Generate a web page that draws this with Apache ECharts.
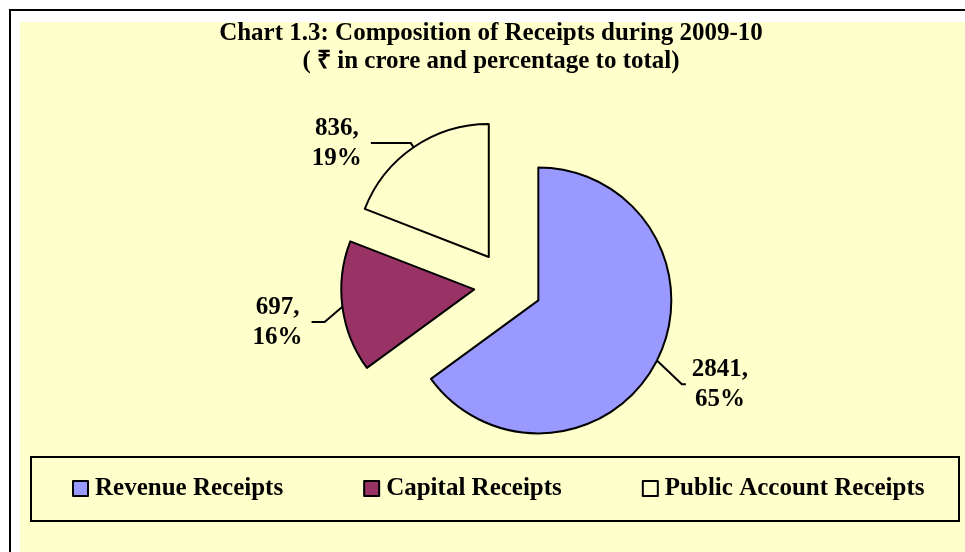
<!DOCTYPE html>
<html lang="en">
<head>
  <meta charset="UTF-8">
  <title>Composition of Receipts during 2009-10</title>
  <script src="https://cdn.jsdelivr.net/npm/echarts@6/dist/echarts.min.js"></script>
  <style>
    html, body { margin: 0; padding: 0; background: #fff; }
    #receiptsPie { width: 965px; height: 552px; }
  </style>
</head>
<body>
  <div id="receiptsPie"></div>
</body>
</html>
<script>
  // 数据（₹ in crore）
  var categories = ['Revenue Receipts', 'Capital Receipts', 'Public Account Receipts']
  var receipts = [2841, 697, 836]
  var sliceColors = ['#9999FF', '#993366', '#FFFFCC']

  // 引导线长度 [length, length2]，标签下移量
  var leaderLines = [[28, 4], [18, 13], [5, 40]]
  var labelShift = [11, 13, 0]

  var serifBold = {
    fontFamily: 'Liberation Serif',
    fontWeight: 'bold',
    fontSize: 25,
    color: '#000'
  }

  var pieData = categories.map(function (name, i) {
    return {
      name: name,
      value: receipts[i],
      selected: true, // 分离扇区
      itemStyle: { color: sliceColors[i] },
      labelLine: { length: leaderLines[i][0], length2: leaderLines[i][1] }
    }
  })

  var receiptsPie = echarts.init(document.getElementById('receiptsPie'))

  receiptsPie.setOption({
    backgroundColor: '#fff',
    animation: false,
    graphic: [
      { // 外框
        type: 'rect', silent: true, z: -10,
        shape: { x: 10, y: 10, width: 1000, height: 600 },
        style: { fill: '#fff', stroke: '#000', lineWidth: 2 }
      },
      { // 绘图区背景
        type: 'rect', silent: true, z: -9,
        shape: { x: 20, y: 22, width: 1000, height: 600 },
        style: { fill: '#FFFFCC' }
      },
      { // 图例框
        type: 'rect', silent: true, z: -8,
        shape: { x: 31, y: 457, width: 928, height: 64 },
        style: { fill: 'none', stroke: '#000', lineWidth: 2 }
      }
    ],
    title: {
      text: 'Chart 1.3: Composition of Receipts during 2009-10\n( \u20B9 in crore and percentage to total)',
      left: 486,
      top: 15,
      textAlign: 'center',
      textStyle: Object.assign({ lineHeight: 28 }, serifBold)
    },
    legend: {
      data: categories,
      selectedMode: false,
      left: 72,
      top: 476,
      padding: 0,
      icon: 'rect',
      itemWidth: 15,
      itemHeight: 15,
      itemGap: 80,
      itemStyle: { borderColor: '#000', borderWidth: 2 },
      textStyle: Object.assign({ padding: [0, 0, 0, 2] }, serifBold)
    },
    series: [
      {
        type: 'pie',
        center: [508, 285],
        radius: 133,
        startAngle: 90,
        clockwise: true,
        selectedMode: 'multiple',
        selectedOffset: 34,
        avoidLabelOverlap: false,
        itemStyle: { borderColor: '#000', borderWidth: 2 },
        label: {
          show: true,
          position: 'outside',
          distanceToLabelLine: 3,
          formatter: function (p) {
            return '{t|' + p.value + ',}\n{t|' + Math.round(p.percent) + '%}'
          },
          rich: {
            t: Object.assign({ width: 62, align: 'center', lineHeight: 30 }, serifBold)
          }
        },
        labelLine: { show: true, lineStyle: { color: '#000', width: 2 } },
        // 标签和引导线末段一起下移，首段变陡
        labelLayout: function (p) {
          var dy = labelShift[p.dataIndex]
          var pts = p.labelLinePoints
          if (!pts || !dy) return {}
          return {
            dy: dy,
            labelLinePoints: [pts[0], [pts[1][0], pts[1][1] + dy], [pts[2][0], pts[2][1] + dy]]
          }
        },
        emphasis: { disabled: true },
        select: {
          itemStyle: { borderColor: '#000', borderWidth: 2 },
          label: { color: '#000' },
          labelLine: { lineStyle: { color: '#000', width: 2 } }
        },
        data: pieData
      }
    ]
  })
</script>
